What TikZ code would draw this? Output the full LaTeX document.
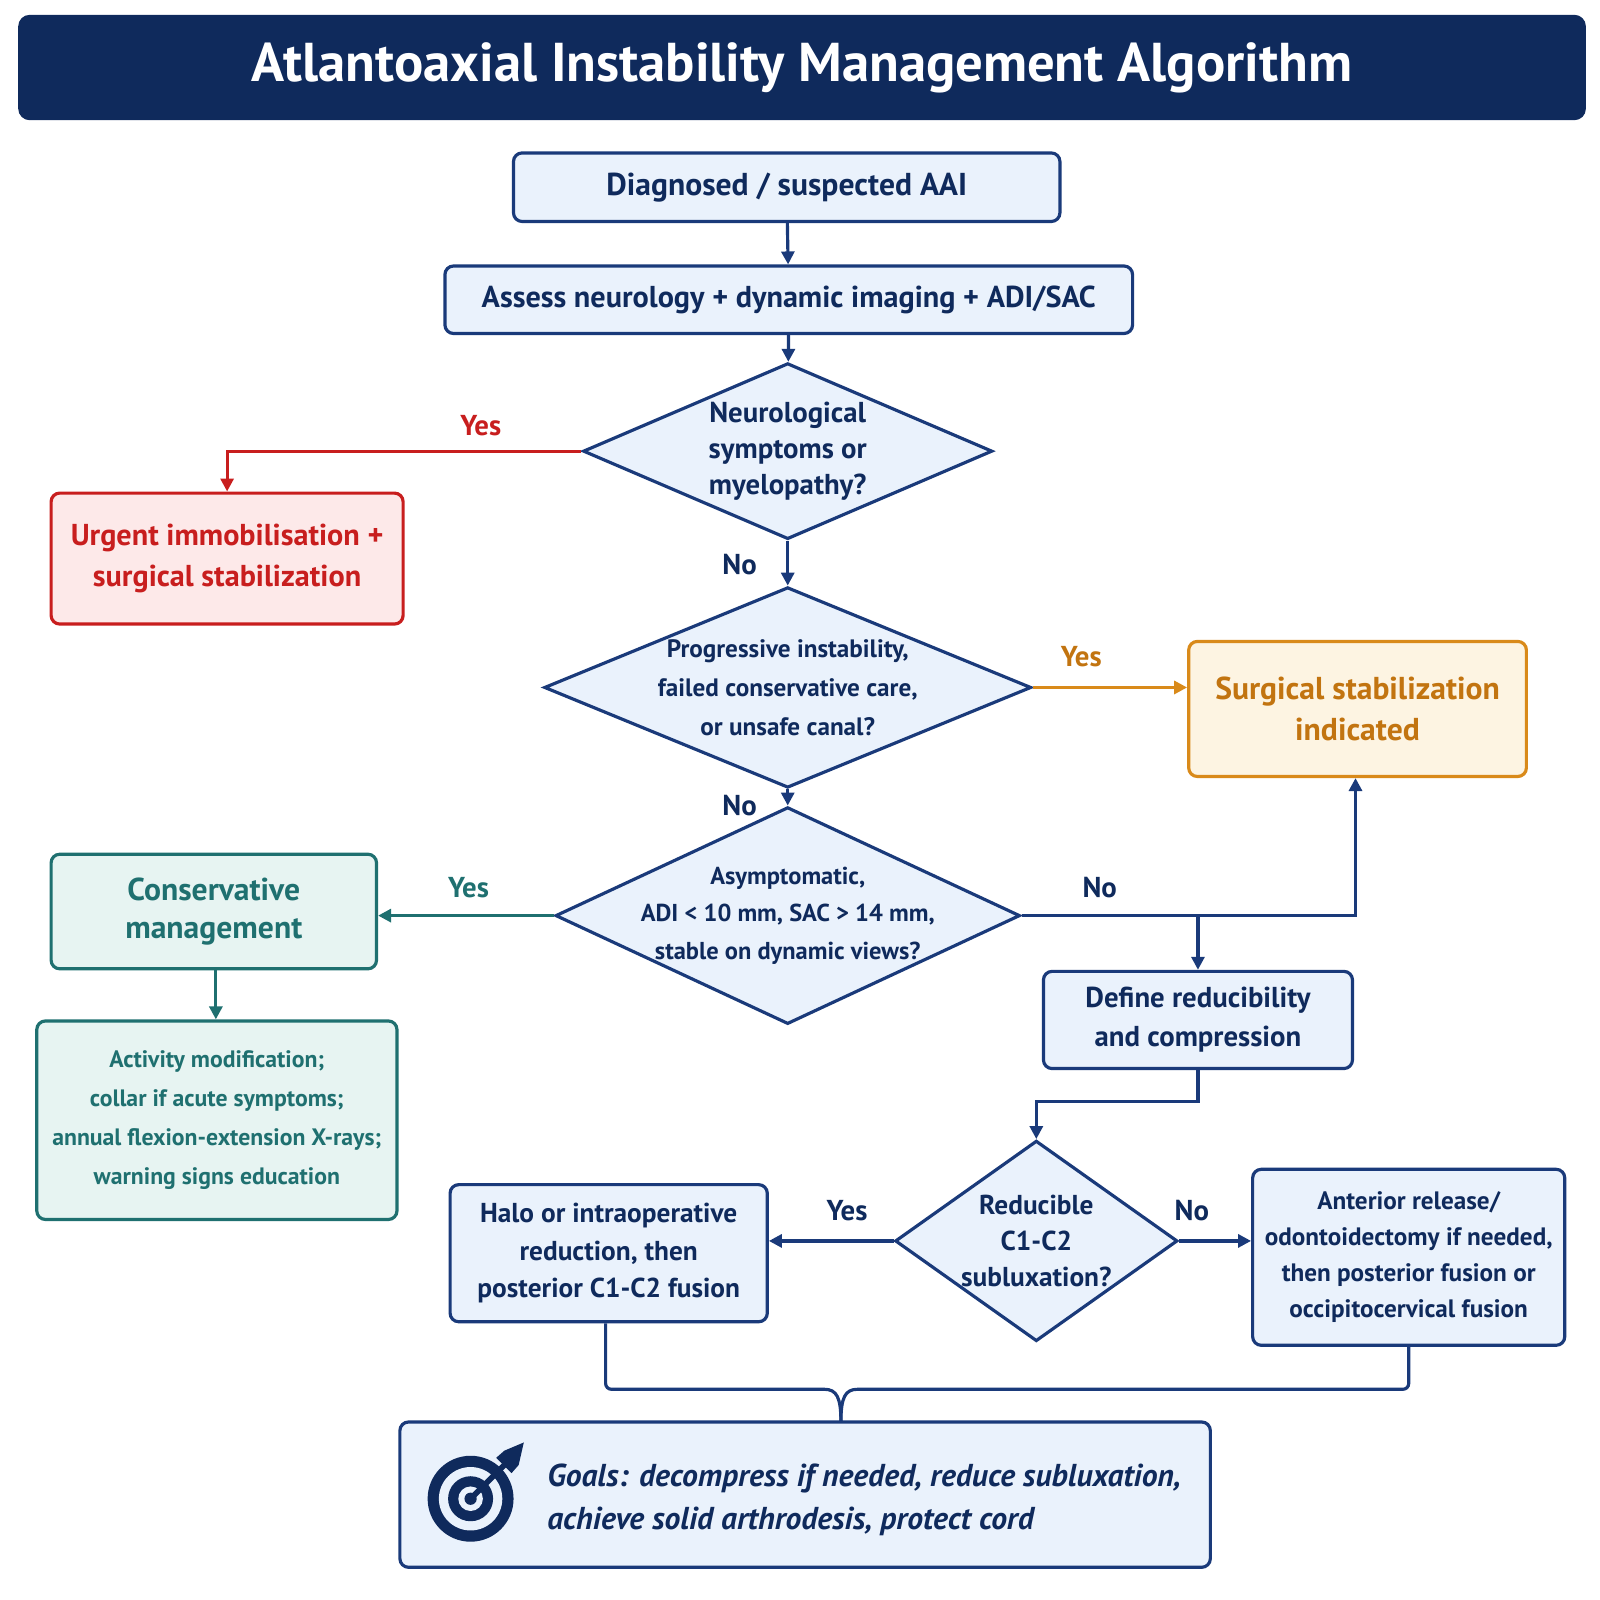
\documentclass[tikz,border=0pt]{standalone}
\usepackage{fontspec}
\setmainfont{PT Sans}
\usetikzlibrary{shapes.geometric,arrows.meta}
\definecolor{navy}{HTML}{0F2A5C}
\definecolor{bnav}{HTML}{1A3A7A}
\definecolor{bfill}{HTML}{EAF2FC}
\definecolor{rd}{HTML}{C81E1E}
\definecolor{rfill}{HTML}{FDE9E9}
\definecolor{org}{HTML}{D98A1A}
\definecolor{otext}{HTML}{C27410}
\definecolor{ofill}{HTML}{FDF4E2}
\definecolor{tl}{HTML}{1F7070}
\definecolor{tfill}{HTML}{E7F4F2}
\begin{document}
\begin{tikzpicture}[x=0.025cm,y=-0.025cm,
 box/.style={draw=bnav,fill=bfill,line width=2.2pt,rounded corners=6pt,text=navy,align=center,font=\bfseries\fontsize{20}{24}\selectfont,inner sep=0pt},
 dia/.style={diamond,draw=bnav,fill=bfill,line width=2.2pt,inner sep=0pt},
 dtext/.style={text=navy,align=center,font=\bfseries\fontsize{20}{25}\selectfont},
 ar/.style={draw=bnav,line width=2.2pt,-{Triangle[length=9pt,width=9pt]}},
 ln/.style={draw=bnav,line width=2.2pt},
 lab/.style={font=\bfseries\fontsize{20}{22}\selectfont}]
\useasboundingbox (0,0) rectangle (1564,1564);
\node[fill=navy,rounded corners=8pt,minimum width=38.3cm,minimum height=2.575cm,text=white,font=\bfseries\fontsize{38}{40}\selectfont] (title) at (784,66) {Atlantoaxial Instability Management Algorithm};
\node[box,minimum width=13.35cm,minimum height=1.675cm,font=\bfseries\fontsize{22}{24}\selectfont] (b1) at (769,183) {Diagnosed / suspected AAI};
\node[box,minimum width=16.8cm,minimum height=1.65cm,font=\bfseries\fontsize{21}{24}\selectfont] (b2) at (771,293) {Assess neurology + dynamic imaging + ADI/SAC};
\node[dia,minimum width=10cm,minimum height=4.3cm,label={[dtext]center:Neurological\\symptoms or\\myelopathy?}] (d1) at (770,441) {};
\node[box,draw=rd,fill=rfill,text=rd,minimum width=8.6cm,minimum height=3.2cm,font=\bfseries\fontsize{21}{28}\selectfont] (red) at (222,546) {Urgent immobilisation +\\surgical stabilization};
\node[dia,minimum width=11.9cm,minimum height=4.9cm,label={[dtext,font=\bfseries\fontsize{17.5}{27}\selectfont]center:Progressive instability,\\failed conservative care,\\or unsafe canal?}] (d2) at (770,672) {};
\node[box,draw=org,fill=ofill,text=otext,minimum width=8.25cm,minimum height=3.3cm,font=\bfseries\fontsize{22}{28}\selectfont] (org) at (1327,693) {Surgical stabilization\\indicated};
\node[dia,minimum width=11.35cm,minimum height=5.3cm,label={[dtext,font=\bfseries\fontsize{17}{26}\selectfont]center:Asymptomatic,\\ADI < 10 mm, SAC > 14 mm,\\stable on dynamic views?}] (d3) at (770,895) {};
\node[box,draw=tl,fill=tfill,text=tl,minimum width=7.95cm,minimum height=2.8cm,font=\bfseries\fontsize{22}{26}\selectfont] (cons) at (209,891) {Conservative\\management};
\node[box,draw=tl,fill=tfill,text=tl,minimum width=8.8cm,minimum height=4.85cm,font=\bfseries\fontsize{16.5}{27}\selectfont] (act) at (212,1095) {Activity modification;\\collar if acute symptoms;\\annual flexion-extension X-rays;\\warning signs education};
\node[box,minimum width=7.55cm,minimum height=2.375cm,font=\bfseries\fontsize{20}{27}\selectfont] (def) at (1171,997) {Define reducibility\\and compression};
\node[dia,minimum width=6.9cm,minimum height=4.9cm,label={[dtext,font=\bfseries\fontsize{19}{25}\selectfont]center:Reducible\\C1-C2\\subluxation?}] (d4) at (1013,1213) {};
\node[box,minimum width=7.75cm,minimum height=3.35cm,font=\bfseries\fontsize{19}{26}\selectfont] (halo) at (595,1225) {Halo or intraoperative\\reduction, then\\posterior C1-C2 fusion};
\node[box,minimum width=7.625cm,minimum height=4.3cm,font=\bfseries\fontsize{17.5}{25}\selectfont] (ant) at (1377,1229) {Anterior release/\\odontoidectomy if needed,\\then posterior fusion or\\occipitocervical fusion};
\node[box,minimum width=19.8cm,minimum height=3.55cm] (goal) at (787,1461) {};
\node[text=navy,align=left,anchor=west,font=\bfseries\itshape\fontsize{22}{30}\selectfont] (gt) at (530,1466) {Goals: decompress if needed, reduce subluxation,\\achieve solid arthrodesis, protect cord};
% target icon
\fill[navy] (460,1465) circle (42);
\fill[bfill] (460,1465) circle (31);
\fill[navy] (460,1465) circle (22);
\fill[bfill] (460,1465) circle (12);
\fill[navy] (460,1465) circle (6);
\draw[navy,line width=4pt] (460,1465) -- (500,1425);
\fill[navy] (493,1418) -- (512,1410) -- (507,1432) -- (500,1440) -- (485,1425) -- cycle;
% connectors
\draw[ar] (b1) -- (b2);
\draw[ar] (b2) -- (d1);
\draw[rd,line width=2.2pt,-{Triangle[length=9pt,width=9pt]}] (d1.west) -| (red.north);
\node[lab,text=rd] (l1) at (470,416) {Yes};
\draw[ar] (d1) -- (d2);
\node[lab,text=navy] (l2) at (723,552) {No};
\draw[org,line width=2.2pt,-{Triangle[length=9pt,width=9pt]}] (d2.east) -- (org.west |- d2.east);
\node[lab,text=otext] (l3) at (1057,642) {Yes};
\draw[ar] (d2) -- (d3);
\node[lab,text=navy] (l4) at (723,787) {No};
\draw[tl,line width=2.2pt,-{Triangle[length=9pt,width=9pt]}] (d3.west) -- (cons.east |- d3.west);
\node[lab,text=tl] (l5) at (458,868) {Yes};
\draw[ar] (d3.east) -- (1325,895) -- (org.south -| 1325,0);
\draw[ar] (1171,895) -- (def.north);
\node[lab,text=navy] (l6) at (1075,868) {No};
\draw[tl,line width=2.2pt,-{Triangle[length=9pt,width=9pt]}] (cons.south -| 211,0) -- (act.north -| 211,0);
\draw[ar] (def.south) -- (1171,1077) -- (1013,1077) -- (d4.north);
\draw[ar] (d4.west) -- (halo.east |- d4.west);
\node[lab,text=navy] (l7) at (828,1183) {Yes};
\draw[ar] (d4.east) -- (ant.west |- d4.east);
\node[lab,text=navy] (l8) at (1165,1183) {No};
\draw[ln,rounded corners=4pt] (halo.south -| 592,0) -- (592,1358) -- (800,1358) .. controls (818,1358) and (822,1366) .. (822,1390);
\draw[ln,rounded corners=4pt] (ant.south) -- (1377,1358) -- (844,1358) .. controls (826,1358) and (822,1366) .. (822,1390);
\end{tikzpicture}
\end{document}
